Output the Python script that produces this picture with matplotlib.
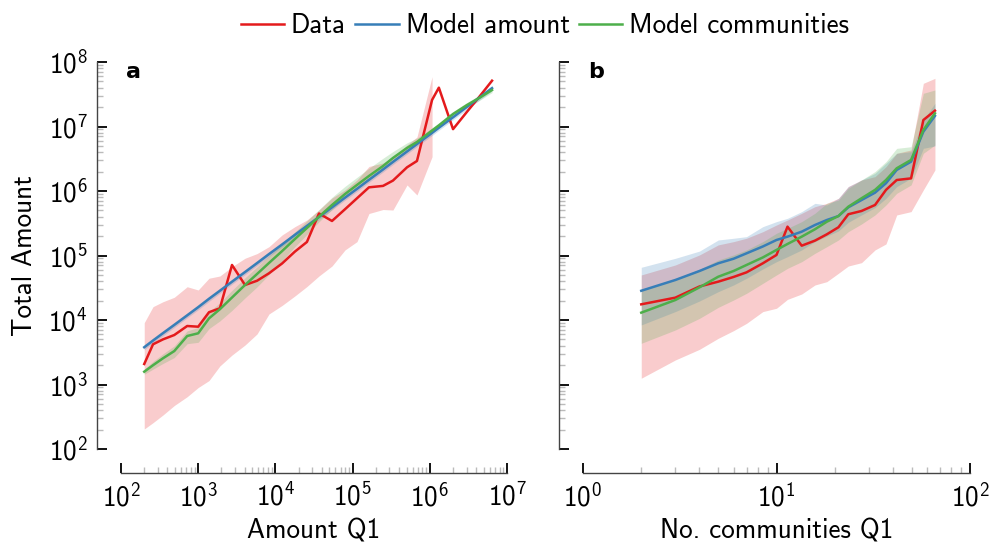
import numpy as np
import matplotlib
matplotlib.use("Agg")
import matplotlib.pyplot as plt
from matplotlib.ticker import LogLocator, NullFormatter

# ---- panel a: total amount vs amount Q1 ----
amount_q1 = [200, 260, 350, 490, 720, 1000, 1380, 1910, 2740, 4040, 5780, 8260,
             12200, 17900, 25600, 36700, 54100, 79800, 114000, 163000, 248000,
             333000, 507000, 682000, 1.07e6, 1.31e6, 2.0e6, 3.03e6, 4.47e6, 6.4e6]

data_a = [2080, 4200, 5010, 5850, 8070, 7870, 13200, 15200, 71300, 34900, 40600,
          53000, 75200, 115000, 162000, 448000, 343000, 522000, 771000, 1.14e6,
          1.2e6, 1.45e6, 2.33e6, 2.92e6, 2.58e7, 4.0e7, 9.1e6, 1.69e7, 2.98e7, 5.13e7]
nan = np.nan
data_a_lo = [204, 256, 337, 472, 647, 897, 1150, 1940, 2860, 4090, 6070, 12400,
             16800, 23600, 33000, 48100, 68700, 122000, 164000, 448000, 516000,
             507000, 1.24e6, 867000, 3.4e6, nan, nan, nan, nan, nan]
data_a_hi = [9080, 16100, 19200, 22500, 32800, 29200, 44400, 48100, 67000, 90600,
             107000, 137000, 208000, 280000, 355000, 507000, 778000, 1.04e6,
             1.48e6, 2.4e6, 2.72e6, 3.37e6, 5.16e6, 6.87e6, 5.92e7, nan, nan, nan,
             nan, nan]

model_amount_a = [3780, 4800, 6250, 8390, 11800, 15800, 21300, 28400, 39200, 55300,
                  76100, 105000, 148000, 209000, 287000, 395000, 559000, 789000,
                  1.08e6, 1.49e6, 2.16e6, 2.82e6, 4.10e6, 5.35e6, 7.96e6, 9.57e6,
                  1.39e7, 2.02e7, 2.85e7, 3.93e7]
model_amount_a_lo = [3450, 4380, 5700, 7650, 10800, 14400, 19400, 25900, 35800, 50500,
                     69400, 95800, 135000, 191000, 262000, 360000, 510000, 720000,
                     985000, 1.36e6, 1.97e6, 2.57e6, 3.74e6, 4.88e6, 7.26e6, 8.73e6,
                     1.27e7, 1.84e7, 2.60e7, 3.59e7]
model_amount_a_hi = [4140, 5260, 6850, 9200, 12900, 17300, 23300, 31100, 43000, 60600,
                     83400, 115000, 162000, 229000, 315000, 433000, 613000, 865000,
                     1.18e6, 1.63e6, 2.37e6, 3.09e6, 4.49e6, 5.86e6, 8.72e6, 1.05e7,
                     1.52e7, 2.21e7, 3.12e7, 4.31e7]

model_comm_a = [1580, 1990, 2550, 3300, 5650, 6220, 10600, 14700, 22300, 34900, 51600,
                76600, 117000, 180000, 267000, 400000, 607000, 897000, 1.24e6, 1.71e6,
                2.44e6, 3.25e6, 4.65e6, 5.75e6, 8.67e6, 1.04e7, 1.56e7, 2.15e7,
                2.82e7, 3.68e7]
model_comm_a_lo = [1440, 1730, 2120, 2620, 4290, 4510, 7350, 9680, 14100, 22000, 32600,
                   50600, 83200, 137000, 212000, 333000, 516000, 782000, 1.08e6,
                   1.49e6, 2.13e6, 2.90e6, 4.14e6, 5.25e6, 7.91e6, 9.46e6, 1.43e7,
                   1.96e7, 2.57e7, 3.36e7]
model_comm_a_hi = [1730, 2280, 2990, 3970, 6790, 7660, 13400, 18500, 28800, 45000,
                   66500, 98600, 151000, 232000, 344000, 515000, 800000, 1.18e6,
                   1.63e6, 2.25e6, 3.22e6, 4.09e6, 5.58e6, 6.61e6, 9.51e6, 1.14e7,
                   1.71e7, 2.36e7, 3.09e7, 4.04e7]

# ---- panel b: total amount vs no. communities Q1 ----
communities_q1 = [2, 3, 4, 5, 6, 7, 8.5, 10, 11.4, 13.5, 15.8, 18.2, 20.9, 23.5,
                  27.5, 32.3, 36.8, 41.8, 49.6, 57.4, 65.9]

data_b = [17500, 22200, 33100, 39300, 46500, 54800, 75700, 102000, 280000, 142000,
          170000, 213000, 274000, 436000, 490000, 607000, 1.04e6, 1.48e6, 1.57e6,
          1.26e7, 1.76e7]
data_b_lo = [1250, 2400, 3510, 5200, 6840, 8870, 13500, 15200, 20900, 25300, 34900,
             39300, 53000, 68700, 77400, 122000, 151000, 425000, 479000, 1.04e6,
             2.12e6]
data_b_hi = [49900, 71300, 102000, 146000, 164000, 185000, 234000, 297000, 355000,
             451000, 571000, 644000, 769000, 1.17e6, 1.48e6, 1.67e6, 2.38e6, 3.84e6,
             4.33e6, 4.67e7, 5.58e7]

model_amount_b = [28400, 41700, 57500, 75700, 89100, 108000, 138000, 174000, 196000,
                  234000, 297000, 355000, 409000, 558000, 724000, 942000, 1.32e6,
                  2.12e6, 2.85e6, 8.3e6, 1.46e7]
model_amount_b_lo = [8380, 13500, 19700, 27500, 34900, 44300, 61800, 80200, 95900,
                     122000, 164000, 200000, 240000, 327000, 425000, 552000, 769000,
                     1.17e6, 1.57e6, 4.59e6, 4.99e6]
model_amount_b_hi = [65600, 90400, 117000, 174000, 185000, 196000, 280000, 335000,
                     377000, 479000, 644000, 607000, 769000, 1.17e6, 1.48e6, 1.88e6,
                     2.69e6, 3.84e6, 4.07e6, 1.26e7, 2.29e7]

model_comm_b = [13000, 20400, 32100, 46900, 57500, 71300, 93300, 122000, 151000,
                196000, 255000, 334000, 409000, 571000, 771000, 1.04e6, 1.48e6,
                2.25e6, 3.03e6, 8.83e6, 1.60e7]
model_comm_b_lo = [4350, 7000, 10600, 15700, 20400, 25900, 37000, 49900, 63200, 80200,
                   108000, 137000, 174000, 234000, 308000, 425000, 607000, 920000,
                   1.24e6, 3.84e6, 5.16e6]
model_comm_b_hi = [29200, 42800, 61100, 85100, 102000, 122000, 164000, 221000, 264000,
                   335000, 451000, 644000, 724000, 1.1e6, 1.48e6, 2.0e6, 2.85e6,
                   4.58e6, 4.86e6, 3.27e7, 3.68e7]

RED, BLUE, GREEN = "#e41a1c", "#377eb8", "#4daf4a"

plt.rcParams["font.family"] = ["cmss10", "DejaVu Sans"]
plt.rcParams["mathtext.fontset"] = "custom"
plt.rcParams["mathtext.rm"] = "cmss10"
plt.rcParams["mathtext.it"] = "cmss10"
plt.rcParams["mathtext.bf"] = "cmss10"
plt.rcParams["axes.unicode_minus"] = False
plt.rcParams["axes.formatter.use_mathtext"] = True
FS = 19.5


def style_axes(ax, xlim, show_ylabels):
    ax.set_xscale("log")
    ax.set_yscale("log")
    ax.set_xlim(*xlim)
    ax.set_ylim(1e2, 1e8)
    for side in ("top", "right"):
        ax.spines[side].set_visible(False)
    for side in ("left", "bottom"):
        ax.spines[side].set_position(("outward", 17))
        ax.spines[side].set_color("#444444")
        ax.spines[side].set_linewidth(1.0)
    ax.xaxis.set_major_locator(LogLocator(base=10, numticks=20))
    ax.yaxis.set_major_locator(LogLocator(base=10, numticks=20))
    ax.xaxis.set_minor_locator(LogLocator(base=10, subs=np.arange(2, 10), numticks=20))
    ax.yaxis.set_minor_locator(LogLocator(base=10, subs=np.arange(2, 10), numticks=20))
    ax.xaxis.set_minor_formatter(NullFormatter())
    ax.yaxis.set_minor_formatter(NullFormatter())
    ax.tick_params(which="major", direction="in", length=7, width=1.3, color="black",
                   labelsize=FS, pad=7)
    ax.tick_params(which="minor", direction="in", length=4.5, width=1.0, color="#bbbbbb")
    if not show_ylabels:
        ax.tick_params(axis="y", labelleft=False)


def draw(ax, x, series):
    # line first, band on top (as in the original figure)
    for y, lo, hi, color in series:
        ax.plot(x, y, color=color, lw=1.8)
        ax.fill_between(x, lo, hi, color=color, alpha=0.22, linewidth=0)


fig = plt.figure(figsize=(9.89, 5.45), dpi=100)
ax_a = fig.add_axes([121 / 989, 96 / 545, 386 / 989, 387 / 545])
ax_b = fig.add_axes([583 / 989, 96 / 545, 387 / 989, 387 / 545])

draw(ax_a, amount_q1, [
    (data_a, data_a_lo, data_a_hi, RED),
    (model_amount_a, model_amount_a_lo, model_amount_a_hi, BLUE),
    (model_comm_a, model_comm_a_lo, model_comm_a_hi, GREEN),
])
draw(ax_b, communities_q1, [
    (data_b, data_b_lo, data_b_hi, RED),
    (model_amount_b, model_amount_b_lo, model_amount_b_hi, BLUE),
    (model_comm_b, model_comm_b_lo, model_comm_b_hi, GREEN),
])

style_axes(ax_a, (1e2, 1e7), True)
style_axes(ax_b, (1e0, 1e2), False)

ax_a.set_xlabel("Amount Q1", fontsize=FS, labelpad=5.5)
ax_b.set_xlabel("No. communities Q1", fontsize=FS, labelpad=5.5)
ax_a.set_ylabel("Total Amount", fontsize=FS, labelpad=8)

for ax, letter in ((ax_a, "a"), (ax_b, "b")):
    ax.text(0.012, 1.0, letter, transform=ax.transAxes, fontsize=16,
            fontweight="bold", family="DejaVu Sans", va="top", ha="left")

handles = [plt.Line2D([], [], color=c, lw=1.8) for c in (RED, BLUE, GREEN)]
fig.legend(handles, ["Data", "Model amount", "Model communities"], loc="upper center",
           bbox_to_anchor=(545 / 989, 1.02), ncol=3, frameon=False, fontsize=FS,
           handlelength=1.6, handletextpad=0.25, columnspacing=0.35)

fig.savefig("out.png", dpi=100)
